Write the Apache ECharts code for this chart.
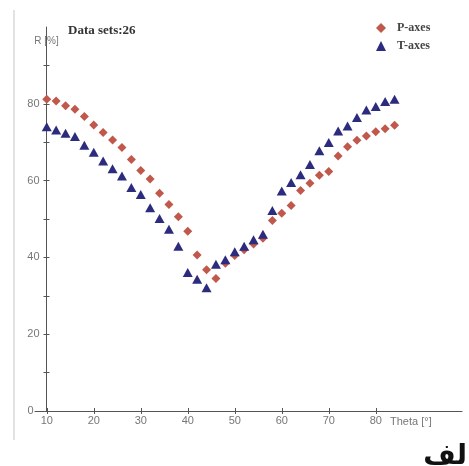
<!DOCTYPE html>
<html><head><meta charset="utf-8">
<script src="https://cdn.jsdelivr.net/npm/echarts@6/dist/echarts.min.js"></script>
<style>html,body{margin:0;padding:0;background:#fff}#c{width:469px;height:466px}</style>
</head><body><div id="c"></div>
<script>
const theta = [10,12,14,16,18,20,22,24,26,28,30,32,34,36,38,40,42,44,46,48,50,52,54,56,58,60,62,64,66,68,70,72,74,76,78,80,82,84];
const pAxes = [81.2,80.7,79.5,78.6,76.7,74.5,72.5,70.6,68.6,65.5,62.6,60.4,56.7,53.8,50.6,46.8,40.6,36.8,34.5,38.5,40.5,42.0,43.5,45.0,49.6,51.5,53.5,57.4,59.3,61.4,62.4,66.4,68.8,70.5,71.6,72.7,73.5,74.4];
const tAxes = [74.0,73.2,72.3,71.5,69.2,67.4,65.1,63.1,61.2,58.2,56.4,52.9,50.1,47.3,42.9,36.1,34.3,32.1,38.2,39.4,41.5,42.9,44.6,46.0,52.2,57.3,59.5,61.5,64.2,67.8,69.9,72.9,74.2,76.4,78.4,79.3,80.6,81.2];
const xTickValues = [10,20,30,40,50,60,70,80];
const yLabelValues = [0,20,40,60,80];
const yTickValues = [10,20,30,40,50,60,70,80,90];

const chart = echarts.init(document.getElementById('c'), null, {renderer:'canvas'});
const axisColor = '#555';
const labelStyle = {color:'#777', fontFamily:'"Liberation Sans", Arial, sans-serif', fontSize:11};
const xMin = 7.5, xMax = 98.35, yMin = 0, yMax = 100;
chart.setOption({
  animation:false,
  backgroundColor:'#fff',
  title:{
    text:'Data sets:26', left:68, top:24, padding:0,
    textStyle:{fontFamily:'"Liberation Serif", "Times New Roman", serif', fontWeight:'bold', fontSize:13, color:'#333'}
  },
  legend:{
    orient:'vertical', left:371, top:17, itemWidth:10, itemHeight:10, itemGap:6,
    textStyle:{fontFamily:'"Liberation Serif", "Times New Roman", serif', fontWeight:'bold', fontSize:12, color:'#444', padding:[0,0,0,6]},
    data:['P-axes','T-axes']
  },
  grid:{left:35, right:7, top:27, bottom:55, containLabel:false},
  xAxis:[{
    type:'value', min:xMin, max:xMax, position:'bottom',
    name:'Theta [°]', nameLocation:'end', nameGap:-72,
    nameTextStyle:{color:'#777', fontFamily:'"Liberation Sans", Arial, sans-serif', fontSize:11, verticalAlign:'top', align:'left', padding:[5,0,0,0]},
    axisLine:{show:true, onZero:false, lineStyle:{color:axisColor, width:1}},
    axisTick:{show:true, inside:false, length:3, customValues:xTickValues, lineStyle:{color:axisColor}},
    axisLabel:Object.assign({show:true, margin:4, customValues:xTickValues}, labelStyle),
    splitLine:{show:false}
  },{
    type:'value', min:xMin, max:xMax, position:'bottom',
    axisLine:{show:false, onZero:false},
    axisTick:{show:true, inside:true, length:3, customValues:xTickValues, lineStyle:{color:axisColor}},
    axisLabel:{show:false}, splitLine:{show:false}
  }],
  yAxis:[{
    type:'value', min:yMin, max:yMax, position:'left', offset:-11.5,
    name:'R [%]', nameLocation:'end', nameGap:-19,
    nameTextStyle:{color:'#777', fontFamily:'"Liberation Sans", Arial, sans-serif', fontSize:10},
    axisLine:{show:true, onZero:false, lineStyle:{color:axisColor, width:1}},
    axisTick:{show:true, inside:false, length:3, customValues:yTickValues, lineStyle:{color:axisColor}},
    axisLabel:Object.assign({show:true, margin:7, customValues:yLabelValues,
      formatter:function(v){ return v === 0 ? '{z|0}' : String(v); },
      rich:{z:{color:'#777', fontFamily:'"Liberation Sans", Arial, sans-serif', fontSize:11, padding:[0,6,0,0]}}
    }, labelStyle),
    splitLine:{show:false}
  },{
    type:'value', min:yMin, max:yMax, position:'left', offset:-11.5,
    axisLine:{show:false, onZero:false},
    axisTick:{show:true, inside:true, length:3, customValues:yTickValues, lineStyle:{color:axisColor}},
    axisLabel:{show:false}, splitLine:{show:false}
  }],
  series:[{
    name:'P-axes', type:'scatter', xAxisIndex:0, yAxisIndex:0,
    symbol:'diamond', symbolSize:9,
    itemStyle:{color:'#c0584c', opacity:1},
    data:theta.map((t,i)=>[t,pAxes[i]])
  },{
    name:'T-axes', type:'scatter', xAxisIndex:0, yAxisIndex:0,
    symbol:'triangle', symbolSize:[10,9],
    itemStyle:{color:'#2d2b7e', opacity:1},
    data:theta.map((t,i)=>[t,tAxes[i]])
  }],
  graphic:[{
    type:'line', silent:true,
    shape:{x1:14, y1:10, x2:14, y2:440},
    style:{stroke:'#e2e2e2', lineWidth:2}
  },{
    type:'text', silent:true, x:467, y:471,
    style:{text:'لف', textAlign:'right', textVerticalAlign:'bottom', font:'bold 28px "DejaVu Sans", sans-serif', fill:'#111'}
  }]
});
</script></body></html>
